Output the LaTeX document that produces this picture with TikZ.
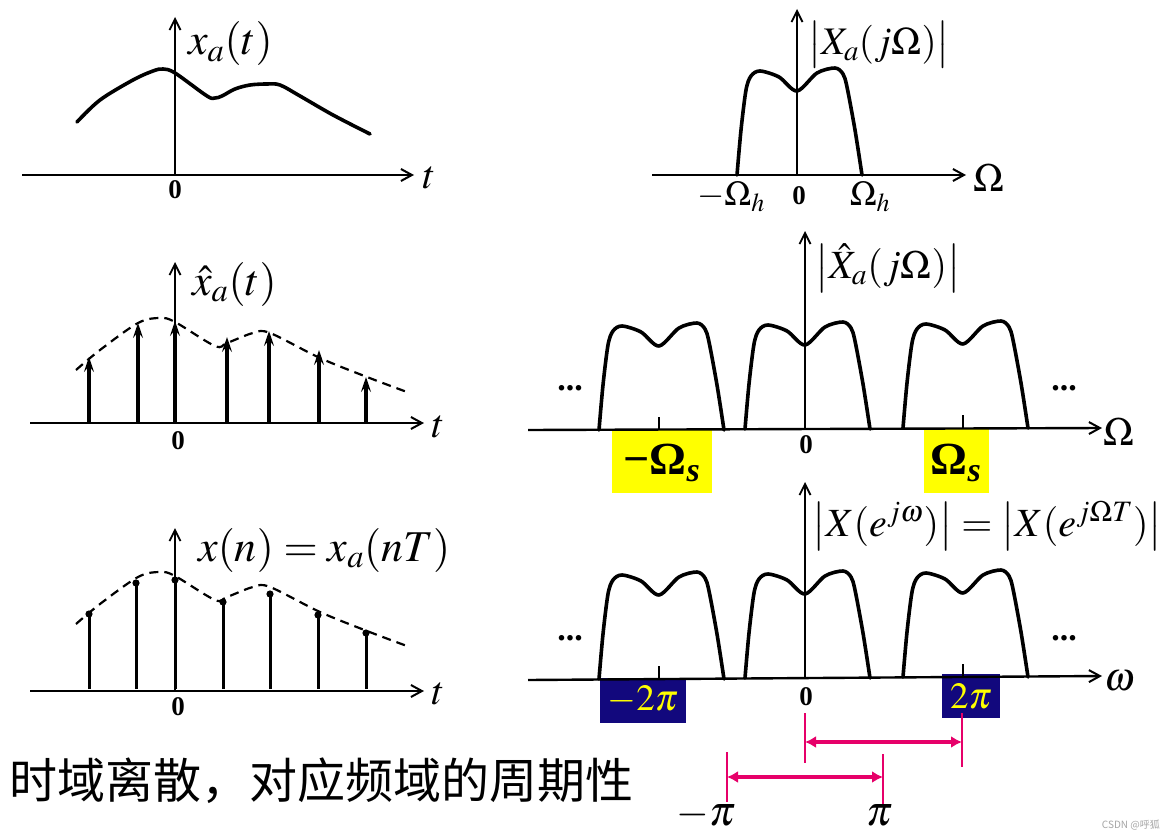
\documentclass[tikz,border=0pt]{standalone}
\usepackage{mathptmx}
\usepackage[no-math]{fontspec}
\setmainfont{Liberation Serif}
\newfontfamily\cjk{Noto Sans CJK SC}
\usetikzlibrary{arrows.meta}
\definecolor{pinkc}{RGB}{230,0,105}
\definecolor{navyc}{RGB}{18,8,125}
\definecolor{yellowc}{RGB}{255,255,0}
\tikzset{
  axisline/.style={line width=2.4pt,-{Straight Barb[length=11pt,width=12pt,line width=2pt]}},
  vaxis/.style={line width=2pt,-{Straight Barb[length=11pt,width=11pt,line width=1.8pt]}},
  curve/.style={line width=3.6pt,line join=round,line cap=round},
  dcurve/.style={line width=2.2pt,dash pattern=on 9pt off 6pt},
  impulse/.style={line width=3.2pt,-{Stealth[length=15pt,width=10pt,inset=6pt]}},
  stem/.style={line width=3pt},
  tick/.style={line width=2.2pt},
  lbl/.style={inner sep=0pt,font=\fontsize{44}{48}\selectfont},
  axl/.style={inner sep=0pt,font=\fontsize{40}{44}\selectfont},
  zero/.style={inner sep=0pt,font=\fontsize{27}{29}\selectfont\bfseries},
  dotsl/.style={inner sep=0pt,font=\fontsize{34}{36}\selectfont\bfseries},
  pinkline/.style={pinkc,line width=2.4pt},
  pinkarrow/.style={pinkc,line width=4pt,{Latex[length=11pt,width=12pt]}-{Latex[length=11pt,width=12pt]}},
}
\newcommand{\lobe}[2]{%
  \draw[curve,shift={(#1,#2)}] plot[smooth,tension=0.5] coordinates {(-60,0) (-56,-45) (-51,-85) (-46,-99) (-37,-104) (-18,-98) (0,-84) (20,-102) (38,-107) (46,-101) (50,-88) (58,-45) (65,0)};}
\begin{document}
\begin{tikzpicture}[x=1pt,y=-1pt]
\useasboundingbox[fill=white] (0,0) rectangle (1170,840);

% ---------- panel 1: x_a(t)
\coordinate (a1l) at (22,175); \coordinate (a1r) at (414,175);
\coordinate (o1) at (175,175); \coordinate (v1t) at (175,17);
\draw[curve] plot[smooth,tension=0.55] coordinates {(77,122) (100,100) (133,80) (153,71) (163,69) (175,73) (207,96) (215,98) (222,96) (235,89) (250,85) (267,84) (280,85) (300,96) (333,115) (370,134)};
\draw[axisline] (a1l) -- (a1r);
\draw[vaxis] (o1) -- (v1t);
\node[lbl,anchor=west] (l1) at (188,44) {$x_a(t)$};
\node[axl] (t1) at (429,178) {$t$};
\node[zero] (z1) at (175,190) {0};

% ---------- panel 2: |X_a(jOmega)|
\coordinate (a2l) at (652,175); \coordinate (a2r) at (966,175);
\coordinate (o2) at (797,175); \coordinate (v2t) at (797,9);
\lobe{797}{175}
\draw[axisline] (a2l) -- (a2r);
\draw[vaxis] (o2) -- (v2t);
\node[lbl,anchor=west,font=\fontsize{39}{42}\selectfont] (l2) at (808,45) {$\big|X_a(j\Omega)\big|$};
\node[axl] (W2) at (989,178) {$\Omega$};
\node[lbl,font=\fontsize{35}{38}\selectfont] (mh) at (731,197) {$-\Omega_h$};
\node[zero] (z2) at (799,196) {0};
\node[lbl,font=\fontsize{35}{38}\selectfont] (ph) at (870,197) {$\Omega_h$};

% ---------- panel 3: sampled impulses
\coordinate (a3l) at (30,423); \coordinate (a3r) at (424,423);
\coordinate (o3) at (175,423); \coordinate (v3t) at (175,262);
\draw[dcurve] plot[smooth,tension=0.55] coordinates {(76,370) (100,350) (138,323) (160,318) (175,322) (215,346) (227,343) (253,333) (270,333) (320,358) (367,377) (407,392)};
\foreach \xx/\yy [count=\i] in {89/357,138/323,175/321,227/337,269/331,319/350,366/377}{
  \coordinate (b3\i) at (\xx,423); \coordinate (t3\i) at (\xx,\yy);
  \draw[impulse] (b3\i) -- (t3\i);}
\draw[axisline] (a3l) -- (a3r);
\draw[vaxis] (o3) -- (v3t);
\node[lbl,anchor=west] (l3) at (192,284) {$\hat{x}_a(t)$};
\node[axl] (t3) at (438,427) {$t$};
\node[zero] (z3) at (178,441) {0};

% ---------- panel 4: |hat X_a(jOmega)|
\fill[yellowc] (612,429) rectangle (712,493);
\fill[yellowc] (924,429) rectangle (989,493);
\coordinate (a4l) at (528,430); \coordinate (a4r) at (1102,428);
\coordinate (o4) at (805,429); \coordinate (v4t) at (805,231);
\lobe{659}{430}
\lobe{805}{429}
\lobe{963}{428}
\coordinate (k4a) at (659,430); \coordinate (k4at) at (659,417);
\coordinate (k4b) at (963,428); \coordinate (k4bt) at (963,415);
\draw[tick] (k4a) -- (k4at);
\draw[tick] (k4b) -- (k4bt);
\draw[axisline] (a4l) -- (a4r);
\draw[vaxis] (o4) -- (v4t);
\node[lbl,anchor=west,font=\fontsize{40}{44}\selectfont] (l4) at (815,268) {$\big|\hat{X}_a(j\Omega)\big|$};
\node[axl] (W4) at (1119,432) {$\Omega$};
\node[zero] (z4) at (806,445) {0};
\node[dotsl] (d4l) at (570,388) {...};
\node[dotsl] (d4r) at (1064,388) {...};
\node[inner sep=0pt,font=\fontsize{46}{48}\selectfont\bfseries] (ms) at (662,463) {−Ω\textsubscript{\textit{s}}};
\node[inner sep=0pt,font=\fontsize{46}{48}\selectfont\bfseries] (ps) at (956,463) {Ω\textsubscript{\textit{s}}};

% ---------- panel 5: x(n)
\coordinate (a5l) at (30,691); \coordinate (a5r) at (424,691);
\coordinate (o5) at (175,691); \coordinate (v5t) at (175,528);
\draw[dcurve,shift={(0,254)}] plot[smooth,tension=0.55] coordinates {(76,370) (100,350) (138,323) (160,318) (175,322) (215,346) (227,343) (253,333) (270,333) (320,358) (367,377) (407,392)};
\foreach \xx/\yy [count=\i] in {89/614,136/583,175/580,223/602,270/594,318/615,366/633}{
  \coordinate (b5\i) at (\xx,689); \coordinate (t5\i) at (\xx,\yy);
  \draw[stem] (b5\i) -- (t5\i);
  \fill (t5\i) circle (3.6pt);}
\draw[axisline] (a5l) -- (a5r);
\draw[vaxis] (o5) -- (v5t);
\node[lbl,anchor=west] (l5) at (198,550) {$x(n)=x_a(nT)$};
\node[axl] (t5) at (438,694) {$t$};
\node[zero] (z5) at (178,707) {0};

% ---------- panel 6: |X(e^{jw})|
\fill[navyc] (600,678) rectangle (686,723);
\fill[navyc] (942,674) rectangle (1000,718);
\coordinate (a6l) at (528,680); \coordinate (a6r) at (1102,676);
\coordinate (o6) at (805,678); \coordinate (v6t) at (805,482);
\lobe{659}{679}
\lobe{805}{678}
\lobe{963}{677}
\coordinate (k6a) at (659,679); \coordinate (k6at) at (659,666);
\coordinate (k6b) at (963,677); \coordinate (k6bt) at (963,664);
\draw[tick] (k6a) -- (k6at);
\draw[tick] (k6b) -- (k6bt);
\draw[axisline] (a6l) -- (a6r);
\draw[vaxis] (o6) -- (v6t);
\node[lbl,anchor=west,font=\fontsize{40}{44}\selectfont] (l6) at (812,526) {$\big|X(e^{j\omega})\big|=\big|X(e^{j\Omega T})\big|$};
\node[axl] (w6) at (1120,681) {$\omega$};
\node[zero] (z6) at (806,697) {0};
\node[dotsl] (d6l) at (570,638) {...};
\node[dotsl] (d6r) at (1064,638) {...};
\node[inner sep=0pt,font=\fontsize{37}{40}\selectfont,text=yellowc] (m2p) at (643,700) {$-2\pi$};
\node[inner sep=0pt,font=\fontsize{37}{40}\selectfont,text=yellowc] (p2p) at (971,696) {$2\pi$};

% ---------- pink period markers
\coordinate (q0a) at (805,713); \coordinate (q0b) at (805,763);
\coordinate (q2a) at (962,713); \coordinate (q2b) at (962,767);
\coordinate (q0m) at (805,742); \coordinate (q2m) at (962,742);
\coordinate (qma) at (727,752); \coordinate (qmb) at (727,802);
\coordinate (qpa) at (883,754); \coordinate (qpb) at (883,805);
\coordinate (qmm) at (727,777); \coordinate (qpm) at (883,777);
\draw[pinkline] (q0a) -- (q0b);
\draw[pinkline] (q2a) -- (q2b);
\draw[pinkline] (qma) -- (qmb);
\draw[pinkline] (qpa) -- (qpb);
\draw[pinkarrow] (q0m) -- (q2m);
\draw[pinkarrow] (qmm) -- (qpm);
\node[inner sep=0pt,font=\fontsize{42}{44}\selectfont] (mpi) at (706,815) {$-\pi$};
\node[inner sep=0pt,font=\fontsize{42}{44}\selectfont] (ppi) at (880,815) {$\pi$};

% ---------- caption
\node[inner sep=0pt,anchor=west,font=\cjk\fontsize{48}{50}\selectfont] (cap) at (9,781) {时域离散，对应频域的周期性};
\node[inner sep=0pt,anchor=east,text=gray!70,font=\cjk\fontsize{10}{12}\selectfont] (wm) at (1160,825) {CSDN @呼狐};
\end{tikzpicture}
\end{document}
